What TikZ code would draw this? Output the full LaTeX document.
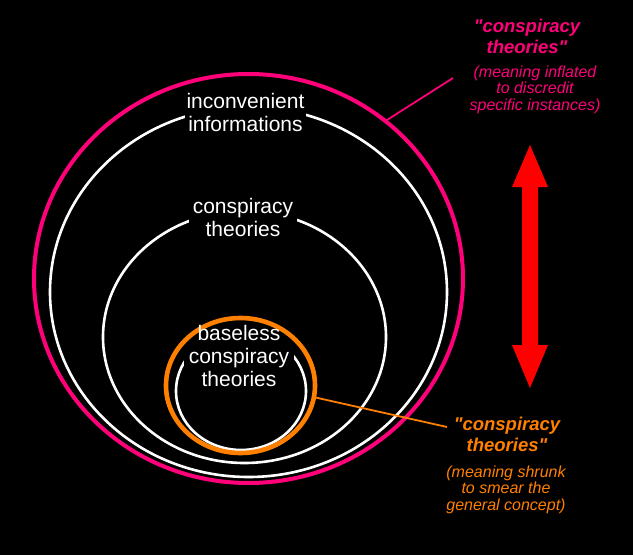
\documentclass[tikz,border=0pt]{standalone}
\usepackage{fontspec}
\setmainfont{Liberation Sans}[Ligatures=TeXOff]
\usetikzlibrary{shapes.geometric}
\pgfdeclarelayer{bg}
\pgfsetlayers{bg,main}
\definecolor{hotpink}{RGB}{255,0,122}
\definecolor{orng}{RGB}{255,128,0}
\newcommand\mlines[1]{\begin{tabular}[t]{@{}c@{}}#1\end{tabular}}
\begin{document}
\begin{tikzpicture}[x=1pt,y=-1pt,
  ring/.style={ellipse, inner sep=0pt, outer sep=0pt},
  whitering/.style={ring, draw=white, line width=2.6pt},
  lbl/.style={text=white, font=\fontsize{21}{23}\selectfont, anchor=base, inner sep=2pt},
  pinktitle/.style={text=hotpink, font=\fontsize{18.5}{21}\selectfont\bfseries\itshape, anchor=base, inner sep=0pt},
  pinksub/.style={text=hotpink, font=\fontsize{16}{16.5}\selectfont\itshape, anchor=base, inner sep=0pt},
  orngtitle/.style={text=orng, font=\fontsize{18.5}{21}\selectfont\bfseries\itshape, anchor=base, inner sep=0pt},
  orngsub/.style={text=orng, font=\fontsize{16}{16.5}\selectfont\itshape, anchor=base, inner sep=0pt},
  pointer/.style={line width=1.8pt}
]
\useasboundingbox (0,0) rectangle (633,555);

% inner label (text on top of everything)
\node[lbl] (baseless) at (239,340) {\mlines{baseless\\conspiracy\\theories}};

\begin{pgfonlayer}{bg}
  \fill[black] (0,0) rectangle (633,555);
  \node[ring, draw=hotpink, line width=4pt, minimum width=429pt, minimum height=409pt] (pinkring) at (248.5,278.5) {};
  \node[whitering, minimum width=397pt, minimum height=370pt] (outerring) at (248.5,292) {};
  \node[whitering, minimum width=283pt, minimum height=252pt] (midring) at (244.5,337) {};
  \node[whitering, minimum width=130pt, minimum height=118pt] (innerring) at (241,391) {};
  \fill[black] ([xshift=-3pt]baseless.north west) rectangle ([xshift=3pt]baseless.south east);
  \node[ring, draw=orng, line width=4.6pt, minimum width=149pt, minimum height=135pt] (orngring) at (240.5,385.5) {};
\end{pgfonlayer}

% white labels
\node[lbl, fill=black] (inconv) at (245.5,108) {\mlines{inconvenient\\informations}};
\node[lbl, fill=black, inner xsep=4pt] (conspir) at (243,213) {\mlines{conspiracy\\theories}};

% pink annotation
\node[pinktitle] (pinkhead) at (527,32) {\mlines{"conspiracy\\theories"}};
\node[pinksub] (pinknote) at (535,77) {\mlines{(meaning inflated\\to discredit\\specific instances)}};
\coordinate (pinkend) at (453,78);
\draw[pointer, hotpink] (pinkring.49) -- (pinkend);

% orange annotation
\node[orngtitle] (ornghead) at (507,430) {\mlines{"conspiracy\\theories"}};
\node[orngsub] (orngnote) at (506,477) {\mlines{(meaning shrunk\\to smear the\\general concept)}};
\coordinate (orngend) at (447,427);
\draw[pointer, orng] (orngring.-9) -- (orngend);

% red double arrow
\fill[red] (530,145) -- (548,187) -- (538,187) -- (538,345) -- (548,345) -- (530,388)
  -- (512,345) -- (522,345) -- (522,187) -- (512,187) -- cycle;
\end{tikzpicture}
\end{document}
